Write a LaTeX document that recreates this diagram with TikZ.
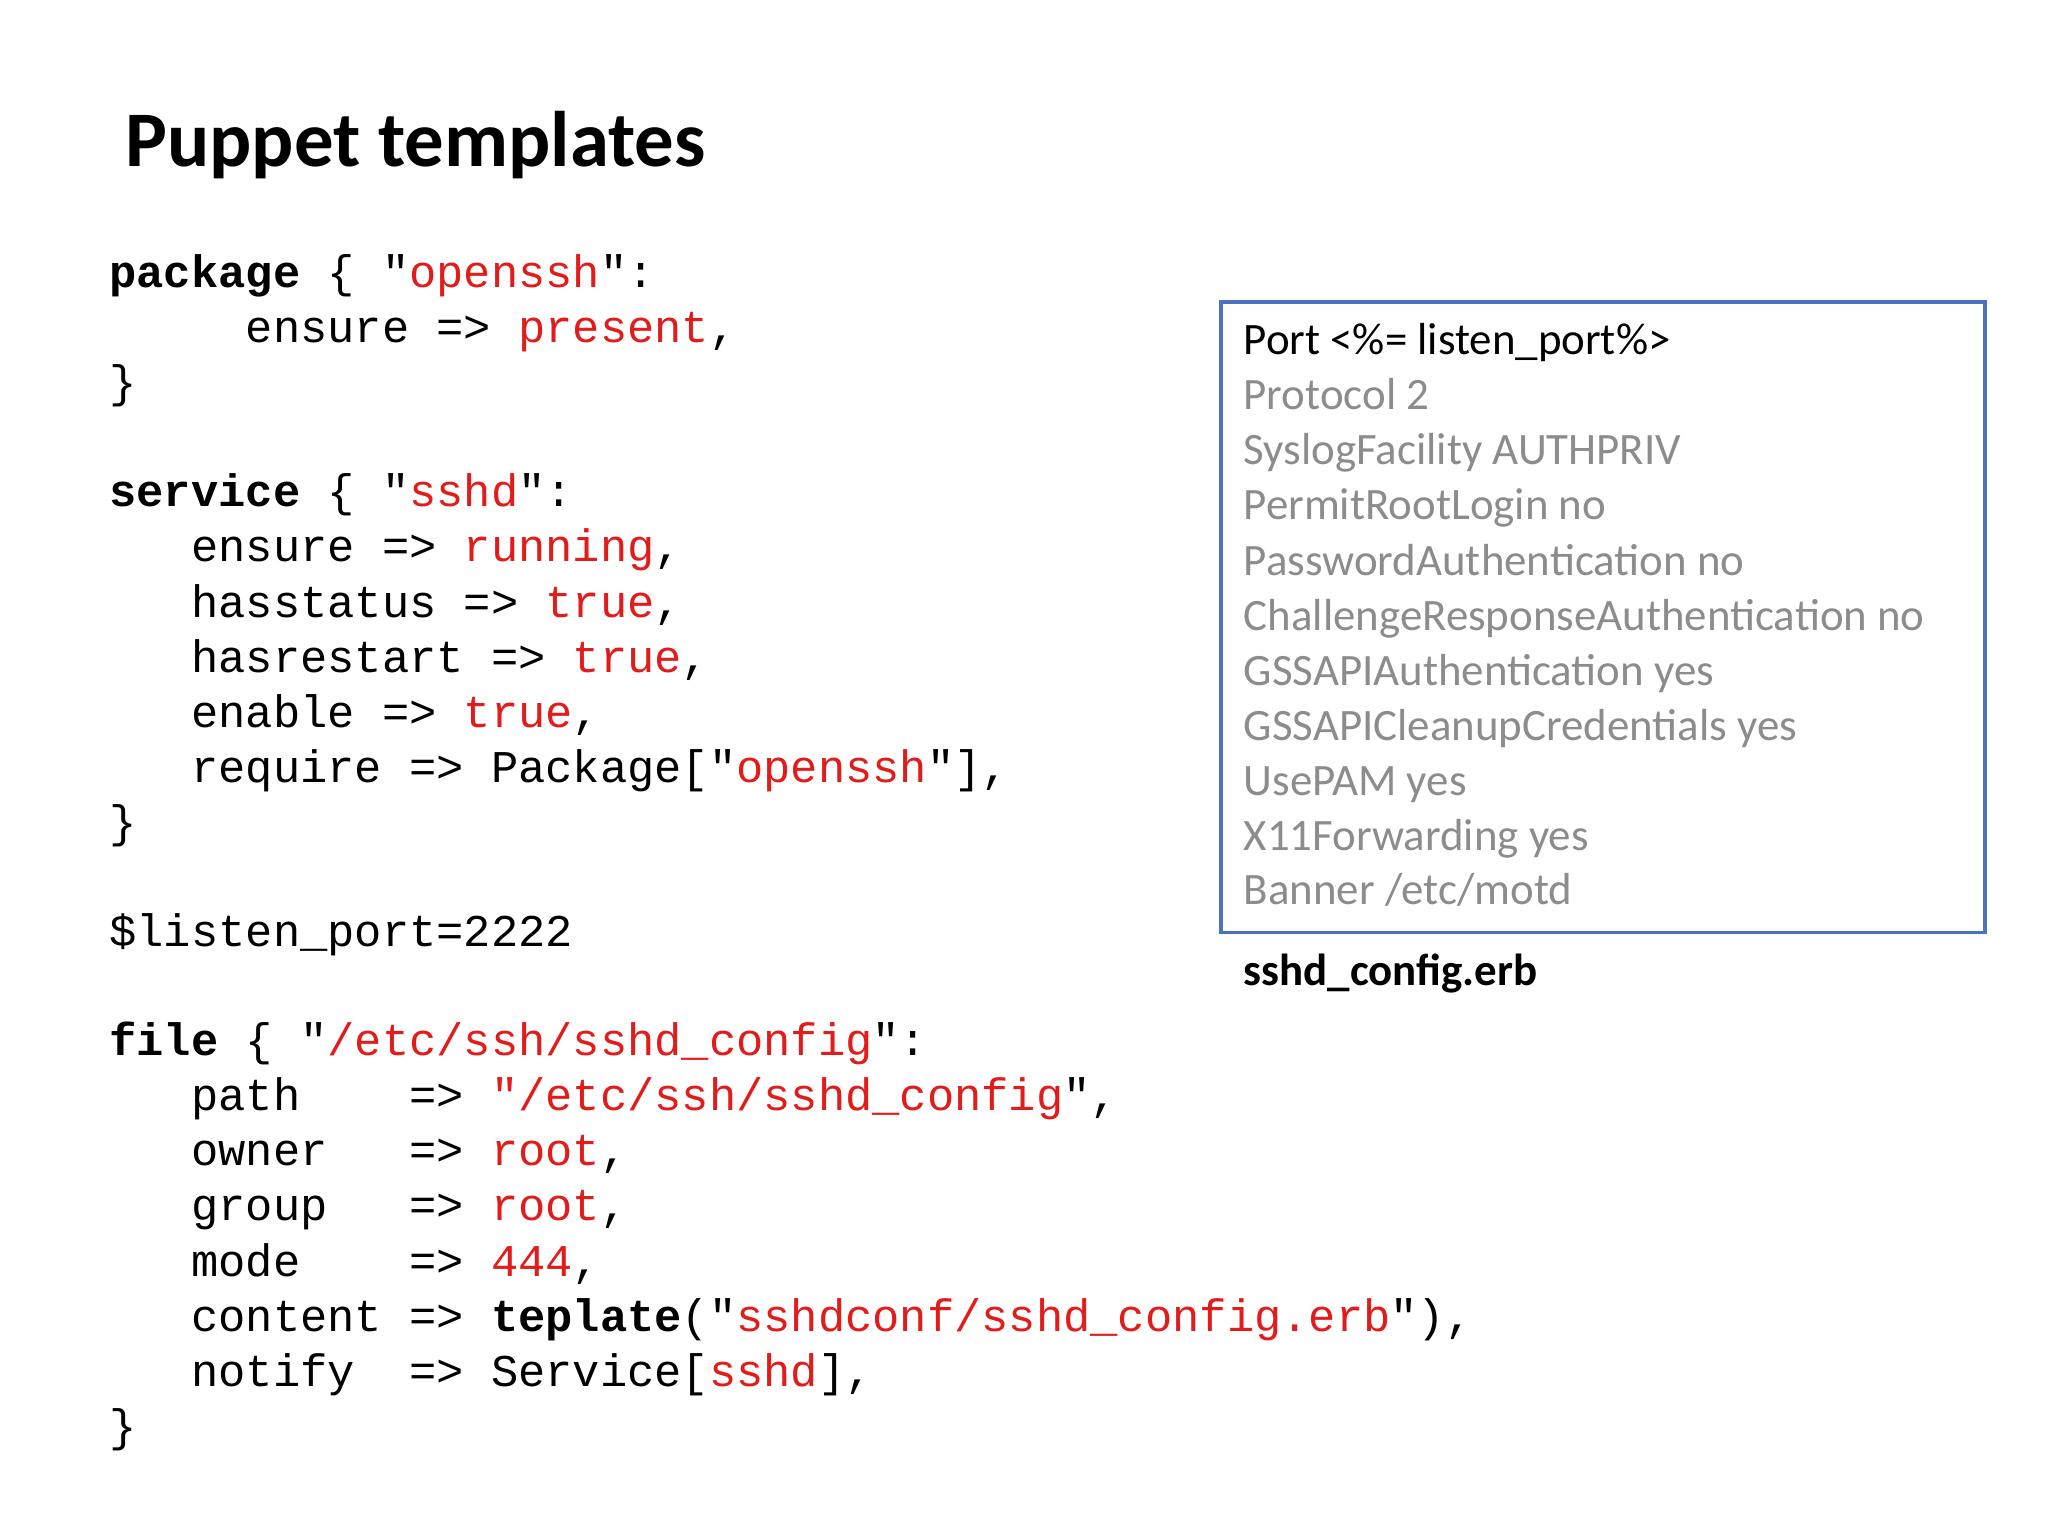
\documentclass[tikz,border=0pt]{standalone}
\usepackage{fontspec}
\setmainfont{Carlito}
\setmonofont{Liberation Mono}
\definecolor{cred}{HTML}{E21B1B}
\definecolor{cgray}{HTML}{8C8C8C}
\definecolor{cblue}{HTML}{4A72C0}
\newcommand{\rd}[1]{\textcolor{cred}{#1}}
\begin{document}
\begin{tikzpicture}[x=0.5pt,y=-0.5pt,
  code/.style={anchor=base west,inner sep=0pt,font=\fontsize{17.3pt}{20pt}\ttfamily},
  boxt/.style={anchor=base west,inner sep=0pt,font=\fontsize{17.1pt}{20pt}\selectfont,text=cgray}]
\useasboundingbox (0,0) rectangle (1560,1170);
\node[anchor=base west,inner sep=0pt,font=\fontsize{30pt}{34pt}\bfseries] (title) at (95,127) {Puppet templates};
\node[code] (l1) at (83,219) {\textbf{package}\ \{\ "\rd{openssh}":};
\node[code] (l2) at (83,261) {\ \ \ \ \ ensure\ =>\ \rd{present},};
\node[code] (l3) at (83,303) {\}};
\node[code] (l4) at (83,386) {\textbf{service}\ \{\ "\rd{sshd}":};
\node[code] (l5) at (83,428) {\ \ \ ensure\ =>\ \rd{running},};
\node[code] (l6) at (83,470) {\ \ \ hasstatus\ =>\ \rd{true},};
\node[code] (l7) at (83,512) {\ \ \ hasrestart\ =>\ \rd{true},};
\node[code] (l8) at (83,554) {\ \ \ enable\ =>\ \rd{true},};
\node[code] (l9) at (83,596) {\ \ \ require\ =>\ Package["\rd{openssh}"],};
\node[code] (l10) at (83,638) {\}};
\node[code] (l11) at (83,721) {\$listen\_port=2222};
\node[code] (l12) at (83,804) {\textbf{file}\ \{\ "\rd{/etc/ssh/sshd\_config}":};
\node[code] (l13) at (83,846) {\ \ \ path\ \ \ \ =>\ \rd{"/etc/ssh/sshd\_config}",};
\node[code] (l14) at (83,888) {\ \ \ owner\ \ \ =>\ \rd{root},};
\node[code] (l15) at (83,930) {\ \ \ group\ \ \ =>\ \rd{root},};
\node[code] (l16) at (83,972) {\ \ \ mode\ \ \ \ =>\ \rd{444},};
\node[code] (l17) at (83,1014) {\ \ \ content\ =>\ \textbf{teplate}("\rd{sshdconf/sshd\_config.erb}"),};
\node[code] (l18) at (83,1056) {\ \ \ notify\ \ =>\ Service[\rd{sshd}],};
\node[code] (l19) at (83,1098) {\}};
\draw[cblue,line width=1.2pt] (930,230) rectangle (1512,710);
\node[boxt,text=black] (b1) at (947,270) {Port <\%= listen\_port\%>};
\node[boxt] (b2) at (947,312) {Protocol 2};
\node[boxt] (b3) at (947,354) {SyslogFacility AUTHPRIV};
\node[boxt] (b4) at (947,396) {PermitRootLogin no};
\node[boxt] (b5) at (947,438) {PasswordAuthentication no};
\node[boxt] (b6) at (947,480) {ChallengeResponseAuthentication no};
\node[boxt] (b7) at (947,522) {GSSAPIAuthentication yes};
\node[boxt] (b8) at (947,564) {GSSAPICleanupCredentials yes};
\node[boxt] (b9) at (947,606) {UsePAM yes};
\node[boxt] (b10) at (947,648) {X11Forwarding yes};
\node[boxt] (b11) at (947,689) {Banner /etc/motd};
\node[boxt,text=black,font=\fontsize{17.1pt}{20pt}\bfseries] (cap) at (947,751) {sshd\_config.erb};
\end{tikzpicture}
\end{document}
